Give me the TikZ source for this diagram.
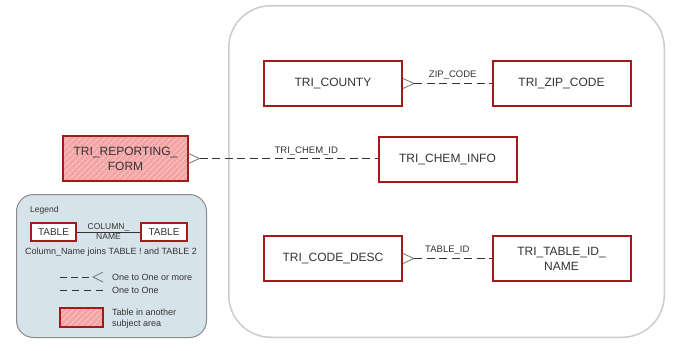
\documentclass[tikz,border=0pt]{standalone}
\usepackage{fontspec}
\setmainfont{Liberation Sans}
\usetikzlibrary{calc,patterns.meta}
\definecolor{boxred}{HTML}{A31A1A}
\definecolor{txt}{HTML}{333333}
\definecolor{hatchbg}{HTML}{F4A4A4}
\definecolor{hatchln}{HTML}{F9C8C8}
\definecolor{framec}{HTML}{CCCCCC}
\definecolor{legbg}{HTML}{D7E3EA}
\definecolor{legfr}{HTML}{8A8A8A}
\definecolor{footc}{HTML}{808080}
\definecolor{dashc}{HTML}{333333}
\begin{document}
\begin{tikzpicture}[x=1pt,y=-1pt,
  tbl/.style={draw=boxred, line width=2pt, minimum width=138pt, minimum height=45pt,
    inner sep=0pt, align=center, font=\fontsize{12}{15}\selectfont, text=txt},
  ent/.style={tbl, fill=white},
  ext/.style={tbl, preaction={fill=hatchbg},
    pattern={Lines[angle=45,distance=4pt,line width=1pt]}, pattern color=hatchln},
  rel/.style={draw=dashc, line width=1.1pt, dash pattern=on 8pt off 4.5pt},
  foot/.style={draw=footc, line width=0.9pt},
  lbl/.style={font=\fontsize{9.5}{11}\selectfont, text=txt, inner sep=0pt, anchor=base},
  small/.style={font=\fontsize{9}{11}\selectfont, text=txt, inner sep=0pt, align=left}]
\useasboundingbox (0,0) rectangle (686,351);
\fill[white] (0,0) rectangle (686,351);

% subject area frame
\node[draw=framec, line width=1.5pt, rounded corners=42pt, minimum width=435.5pt,
  minimum height=331.5pt, inner sep=0pt] (area) at (446.5,171.5) {};

% tables
\node[ent] (cty) at (333,83.5) {TRI\_COUNTY};
\node[ent] (zip) at (561.5,83.5) {TRI\_ZIP\_CODE};
\node[ent] (chem) at (447.5,159.5) {TRI\_CHEM\_INFO};
\node[ext, minimum width=125pt] (rep) at (125.5,158.5) {TRI\_REPORTING\_\\FORM};
\node[ent] (desc) at (333,258.5) {TRI\_CODE\_DESC};
\node[ent] (tid) at (561.5,258.5) {TRI\_TABLE\_ID\_\\NAME};

% relationships
\coordinate (f1) at ($(cty.east)+(11,0)$);
\draw[foot] ($(cty.east)+(0,-5)$) -- (f1) -- ($(cty.east)+(0,5)$);
\draw[rel] (f1) -- node[lbl, pos=0.5, yshift=6.5pt] {ZIP\_CODE} (zip.west);

\coordinate (f2) at ($(rep.east)+(11,0)$);
\draw[foot] ($(rep.east)+(0,-5)$) -- (f2) -- ($(rep.east)+(0,5)$);
\draw[rel] (f2) -- node[lbl, pos=0.6, yshift=5pt] {TRI\_CHEM\_ID} (f2 -| chem.west);

\coordinate (f3) at ($(desc.east)+(11,0)$);
\draw[foot] ($(desc.east)+(0,-5)$) -- (f3) -- ($(desc.east)+(0,5)$);
\draw[rel] (f3) -- node[lbl, pos=0.43, yshift=6.5pt] {TABLE\_ID} (tid.west);

% legend
\node[draw=legfr, fill=legbg, line width=1pt, rounded corners=17pt, minimum width=190pt,
  minimum height=143pt, inner sep=0pt] (leg) at (111.5,266) {};
\node[small, anchor=west, font=\fontsize{8.5}{10}\selectfont] (legt) at (30,210) {Legend};
\node[ent, minimum width=45pt, minimum height=18pt, font=\fontsize{10}{12}\selectfont] (lt1) at (53.5,232) {TABLE};
\node[ent, minimum width=46pt, minimum height=18pt, font=\fontsize{10}{12}\selectfont] (lt2) at (164,232) {TABLE};
\draw[txt, line width=0.8pt] (lt1) -- node[inner sep=0pt, align=center, text=txt,
  font=\fontsize{8.5}{10}\selectfont] (colname) {COLUMN\_\\NAME} (lt2);
\node[small, anchor=west] (join) at (25,252) {Column\_Name joins TABLE ! and TABLE 2};

\coordinate (a1) at (60,277);
\coordinate (a2) at (93,277);
\draw[rel, line width=0.9pt, dash pattern=on 7pt off 4pt] (a1) -- (a2);
\draw[foot] ($(a2)+(10,-5)$) -- (a2) -- ($(a2)+(10,5)$);
\node[small, anchor=west] (t1) at (112,277) {One to One or more};

\coordinate (b1) at (60,290);
\coordinate (b2) at (103,290);
\draw[rel, line width=0.9pt, dash pattern=on 7pt off 5pt] (b1) -- (b2);
\node[small, anchor=west] (t2) at (112,290) {One to One};

\node[ext, minimum width=43pt, minimum height=19pt] (hb) at (81.5,317.5) {};
\node[small, anchor=west] (t3) at (112,318.5) {Table in another\\subject area};
\end{tikzpicture}
\end{document}
